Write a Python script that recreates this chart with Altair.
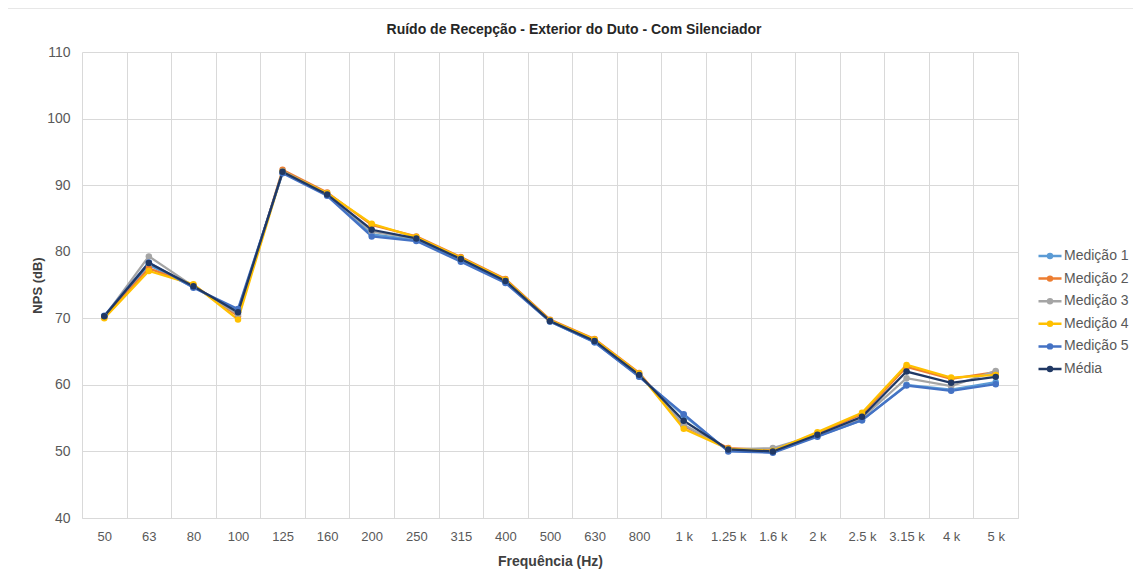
import altair as alt
import pandas as pd

categories = ["50", "63", "80", "100", "125", "160", "200", "250", "315", "400", "500",
              "630", "800", "1 k", "1.25 k", "1.6 k", "2 k", "2.5 k", "3.15 k", "4 k", "5 k"]

series_names = ["Medição 1", "Medição 2", "Medição 3", "Medição 4", "Medição 5", "Média"]
series_colors = ["#5B9BD5", "#ED7D31", "#A5A5A5", "#FFC000", "#4472C4", "#203864"]

med1 = [70.3, 78.0, 74.7, 71.1, 91.9, 88.6, 82.6, 81.8, 78.7, 75.5, 69.5, 66.4, 61.3, 55.4, 50.1, 49.9, 52.3, 54.7, 60.0, 59.3, 60.4]
med2 = [70.1, 77.5, 75.0, 70.3, 92.3, 88.9, 84.0, 82.3, 79.2, 75.9, 69.8, 66.9, 61.8, 53.8, 50.5, 50.2, 52.7, 55.6, 62.7, 60.9, 61.9]
med3 = [70.2, 79.3, 74.8, 70.6, 92.1, 88.7, 83.0, 82.0, 79.0, 75.7, 69.6, 66.7, 61.6, 54.0, 50.3, 50.5, 52.5, 55.0, 61.0, 59.8, 62.1]
med4 = [70.0, 77.1, 75.1, 69.8, 92.0, 88.8, 84.2, 82.2, 79.1, 75.8, 69.7, 66.8, 61.7, 53.4, 50.4, 50.1, 52.9, 55.8, 63.0, 61.1, 61.5]
med5 = [70.4, 78.4, 74.6, 71.4, 91.8, 88.4, 82.3, 81.6, 78.5, 75.3, 69.5, 66.4, 61.2, 55.6, 50.0, 49.8, 52.2, 54.7, 59.9, 59.1, 60.1]
media = [70.3, 78.3, 74.8, 70.9, 92.0, 88.6, 83.3, 82.0, 78.9, 75.6, 69.6, 66.6, 61.5, 54.6, 50.3, 50.0, 52.5, 55.2, 62.0, 60.3, 61.2]

y_ticks = [40, 50, 60, 70, 80, 90, 100, 110]

all_series = [med1, med2, med3, med4, med5, media]
rows = []
for name, vals in zip(series_names, all_series):
    for i, (c, v) in enumerate(zip(categories, vals)):
        rows.append({"freq": c, "order": i, "serie": name, "nps": v})
df = pd.DataFrame(rows)

FONT = "Liberation Sans"
NARROW = "'Liberation Sans Narrow', 'Liberation Sans'"

# line with a small dot in the middle (thick stroke makes the dot look filled)
legend_symbol = ("M-1,0H-0.17M0.17,0H1M-0.17,0A0.17,0.17,0,1,0,0.17,0"
                 "A0.17,0.17,0,1,0,-0.17,0Z")

lines = alt.Chart(df).mark_line(
    strokeWidth=2.25,
    point=alt.OverlayMarkDef(size=42, filled=True, opacity=1),
).encode(
    x=alt.X("freq:N", sort=categories, bandPosition=0.5,
            scale=alt.Scale(type="band", paddingInner=0, paddingOuter=0),
            axis=alt.Axis(title="Frequência (Hz)", labelAngle=0, tickBand="extent",
                          ticks=False, domain=True, domainColor="#D9D9D9",
                          gridColor="#D9D9D9", grid=True,
                          labelFont=NARROW, labelFontSize=13, labelColor="#595959",
                          labelPadding=12, titleFont=NARROW, titleFontSize=14,
                          titleFontWeight="bold", titleColor="#404040", titlePadding=11)),
    y=alt.Y("nps:Q",
            scale=alt.Scale(domain=[40, 110], nice=False, zero=False),
            axis=alt.Axis(title="NPS (dB)", values=y_ticks, domain=False, ticks=False,
                          gridColor="#D9D9D9", labelFont=FONT, labelFontSize=14,
                          labelColor="#595959", labelPadding=12, titleFont=FONT,
                          titleFontSize=13, titleFontWeight="bold", titleColor="#404040",
                          titlePadding=2)),
    color=alt.Color("serie:N",
                    scale=alt.Scale(domain=series_names, range=series_colors),
                    sort=series_names,
                    legend=alt.Legend(
                        title=None, orient="none", legendX=955, legendY=191,
                        symbolType=legend_symbol, symbolSize=529, symbolStrokeWidth=2.5,
                        labelFont=FONT, labelFontSize=14, labelColor="#595959",
                        labelOffset=1, rowPadding=2.6, padding=0,
                    )),
    order=alt.Order("order:Q"),
)

frame = alt.Chart(alt.Data(values=[{"a": 1}])).mark_rect(
    fill="transparent", stroke="#D0D0D0", strokeWidth=1
).encode(
    x=alt.value(-79), x2=alt.value(1056), y=alt.value(-44), y2=alt.value(530)
)

chart = alt.layer(frame, lines).properties(
    width=936,
    height=466,
    title=alt.TitleParams(
        "Ruído de Recepção - Exterior do Duto - Com Silenciador",
        font=NARROW, fontSize=14, fontWeight="bold", color="#262626",
        anchor="middle", dx=24, offset=-29,
    ),
    autosize=alt.AutoSizeParams(type="none"),
    padding={"left": 74, "top": 44, "right": 115, "bottom": 52},
    background="white",
).configure_view(stroke="transparent")

chart.save("out.html", embed_options={"renderer": "svg", "actions": False})
